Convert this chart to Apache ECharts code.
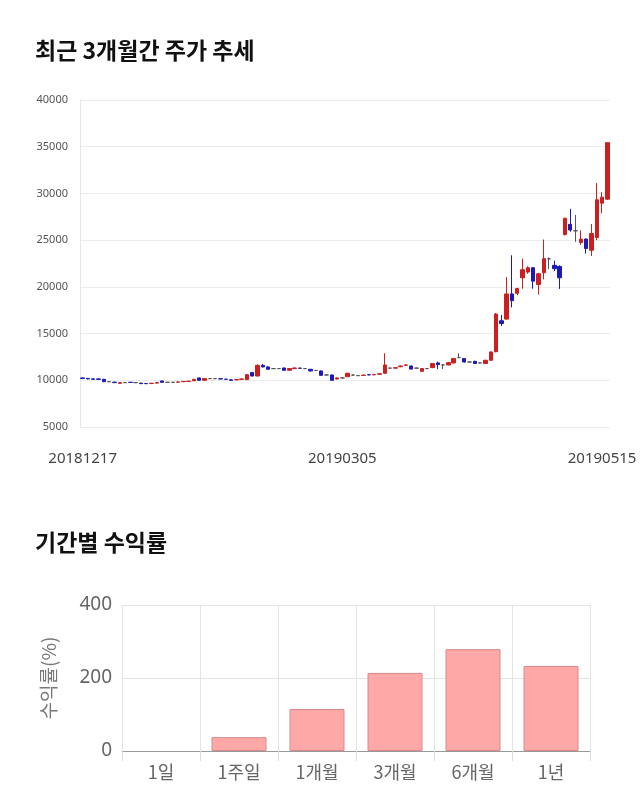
<!DOCTYPE html>
<html><head><meta charset="utf-8">
<script src="https://cdn.jsdelivr.net/npm/echarts@6/dist/echarts.min.js"></script>
<style>html,body{margin:0;padding:0;background:#fff}#c{width:640px;height:810px}</style>
</head><body><div id="c"></div>
<script>
// [open, close, low, high]
const candles = [
[10250,10200,10150,10300],[10200,10150,10100,10250],[10150,10100,10050,10200],[10150,10100,10050,10200],
[10100,9850,9800,10150],[9850,9850,9800,9900],[9800,9750,9700,9850],[9680,9750,9600,9800],
[9750,9750,9700,9800],[9780,9770,9720,9820],[9750,9750,9700,9800],[9700,9640,9600,9720],
[9650,9640,9600,9700],[9650,9680,9620,9720],[9700,9750,9650,9780],[9930,9780,9750,9950],
[9780,9780,9730,9820],[9780,9780,9740,9820],[9800,9820,9760,9860],[9850,9880,9800,9900],
[9880,9900,9850,9950],[9950,10100,9900,10150],[10250,10000,9980,10280],[10000,10180,9980,10220],
[10180,10180,10120,10230],[10180,10180,10130,10220],[10160,10150,10100,10200],[10120,10100,10050,10150],
[10050,10000,9950,10080],[10050,10070,10000,10100],[10100,10140,10050,10180],[10070,10600,10050,10650],
[10820,10460,10400,10900],[10460,11600,10400,11700],[11600,11430,11380,11750],[11430,11180,11150,11500],
[11250,11250,11200,11300],[11250,11250,11200,11300],[11320,11070,11050,11350],[11070,11250,11050,11300],
[11250,11320,11200,11380],[11300,11280,11250,11350],[11250,11250,11200,11300],[11180,11000,10950,11200],
[11050,11050,11000,11100],[11000,10530,10500,11050],[10570,10570,10520,10620],[10570,10000,9980,10600],
[10140,10250,10100,10300],[10250,10250,10200,10300],
[10380,10750,10350,10800],[10560,10560,10500,10620],[10500,10500,10450,10550],[10520,10550,10480,10600],
[10600,10580,10540,10640],[10580,10620,10550,10680],[10650,10700,10620,10750],[10750,11640,10700,12890],
[11300,11300,11250,11350],[11300,11350,11280,11400],[11450,11530,11400,11580],[11600,11640,11550,11700],
[11530,11200,11180,11580],[11300,11300,11250,11350],[10960,11250,10950,11300],[11250,11250,11200,11300],
[11360,11790,11300,11850],[11860,11680,11200,12000],[11640,11640,11200,11700],[11640,11890,11600,11950],
[11860,12320,11800,12380],[12430,12430,12380,12890],[12320,11960,11900,12380],[11960,11960,11900,12000],
[12030,11790,11750,12080],[11860,11860,11800,11900],[11790,12140,11750,12200],[12140,13030,12100,13100],
[13060,17090,13000,17200],[16370,16080,15800,17000],[16550,19240,16500,21040],[19240,18520,17800,23380],
[19310,19820,19100,19900],[20970,21830,19800,23020],[21580,22050,21400,22200],[22050,20610,19800,22100],
[20250,21400,19170,21500],[21510,23020,20800,25070],[23000,23000,21900,23160],[22300,21940,21700,22800],
[22190,20970,19780,22300],[25610,27340,25500,27400],[26690,26080,25900,28350],[26000,26000,24820,27700],
[24750,25110,24500,26050],[25110,24100,23560,25200],[23920,25720,23310,26730],[25290,29320,25000,31120],
[28960,29600,27880,30140],[29390,35430,29300,35430]
];
const holidays = ['20181225','20181231','20190101','20190204','20190205','20190206','20190301','20190501','20190506'];
const dates = [];
(function(){ let d = new Date(Date.UTC(2018,11,17));
  while (dates.length < candles.length) {
    const s = d.toISOString().slice(0,10).replace(/-/g,'');
    const w = d.getUTCDay();
    if (w!==0 && w!==6 && holidays.indexOf(s)<0) dates.push(s);
    d.setUTCDate(d.getUTCDate()+1);
  }})();
const shownDates = ['20181217','20190305','20190515'];
const periods = ['1일','1주일','1개월','3개월','6개월','1년'];
const returns = ['-', 38, 115, 214, 279, 233];

const chart = echarts.init(document.getElementById('c'));
chart.setOption({
  animation:false,
  title:[
    {text:'최근 3개월간 주가 추세',left:30,top:34,textStyle:{fontSize:23,fontWeight:'bold',color:'#111',fontFamily:'Noto Sans CJK KR'}},
    {text:'기간별 수익률',left:30,top:526,textStyle:{fontSize:23,fontWeight:'bold',color:'#111',fontFamily:'Noto Sans CJK KR'}}
  ],
  grid:[
    {left:80,right:30,top:100,height:327},
    {left:122,right:50,top:605,height:146}
  ],
  xAxis:[
    {type:'category',gridIndex:0,data:dates,boundaryGap:true,
     axisLine:{show:false},axisTick:{show:false},splitLine:{show:false},
     axisLabel:{interval:(i,v)=>shownDates.indexOf(v)>=0,fontSize:15,color:'#444',margin:24,fontFamily:'Noto Sans'}},
    {type:'category',gridIndex:1,data:periods,
     axisLine:{lineStyle:{color:'#999'}},axisTick:{show:true,length:10,lineStyle:{color:'#ddd'}},
     splitLine:{show:true,lineStyle:{color:'#e3e3e3'}},
     axisLabel:{fontSize:18,color:'#666',margin:12,fontFamily:'Noto Sans CJK KR'}}
  ],
  yAxis:[
    {type:'value',gridIndex:0,min:5000,max:40000,interval:5000,
     axisLine:{show:true,lineStyle:{color:'#e6e6e6'}},axisTick:{show:false},
     splitLine:{lineStyle:{color:'#ececec'}},
     axisLabel:{fontSize:11,color:'#555',margin:12,fontFamily:'Noto Sans',formatter:v=>String(v)}},
    {type:'value',gridIndex:1,min:0,max:400,interval:200,
     name:'수익률(%)',nameLocation:'middle',nameGap:64,nameRotate:90,
     nameTextStyle:{fontSize:19,color:'#777',fontFamily:'Noto Sans CJK KR'},
     axisLine:{show:false},axisTick:{show:false},
     splitLine:{lineStyle:{color:'#e3e3e3'}},
     axisLabel:{fontSize:19,color:'#666',margin:10,fontFamily:'Noto Sans'}}
  ],
  series:[
    {type:'candlestick',xAxisIndex:0,yAxisIndex:0,data:candles,barWidth:'75%',
     itemStyle:{color:'#cc1f1f',color0:'#1a1ab8',borderColor:'#cc1f1f',borderColor0:'#1a1ab8',borderColorDoji:'#555',borderWidth:1}},
    {type:'bar',xAxisIndex:1,yAxisIndex:1,data:returns,barWidth:55,
     itemStyle:{color:'#ffa8a8',borderColor:'#d88a8a',borderWidth:1}}
  ]
});
</script></body></html>
